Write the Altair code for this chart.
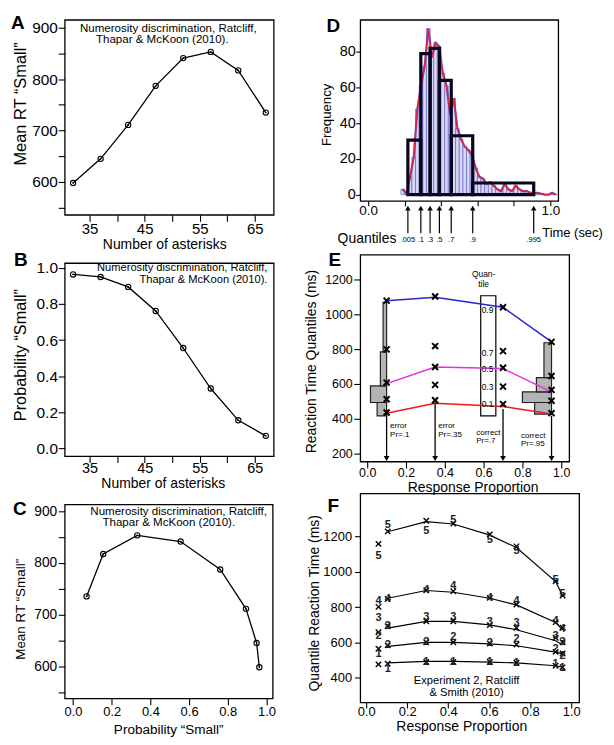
import altair as alt
import pandas as pd

FONT = "Liberation Sans"

# ================= data =================
# Panels A-C : numerosity discrimination
asterisks = [32, 37, 42, 47, 52, 57, 62, 67]
mean_rt_small = [598, 645, 711, 787, 841, 853, 817, 735]
prob_small = [0.963, 0.949, 0.894, 0.761, 0.556, 0.332, 0.156, 0.070]
note_lines = ["Numerosity discrimination, Ratcliff,", "Thapar & McKoon (2010)."]

# Panel D : RT histogram
fine_bin_lo = [0.18, 0.20, 0.22, 0.24, 0.26, 0.28, 0.30, 0.32, 0.34, 0.36, 0.38,
               0.40, 0.42, 0.44, 0.46, 0.48, 0.50, 0.52, 0.54, 0.56, 0.58, 0.60,
               0.62, 0.64, 0.66, 0.68, 0.70, 0.72, 0.74, 0.76, 0.78, 0.80, 0.82,
               0.84, 0.86, 0.88, 0.90, 0.92, 0.94, 0.96, 0.98, 1.00, 1.02]
fine_freq = [3, 0.5, 10, 21, 48, 61, 72, 93, 77, 85, 83,
             68, 61, 45, 54, 37, 31, 27, 25, 22, 15, 10,
             9, 6, 7, 5, 3, 2, 6, 3, 2, 5, 3,
             2, 2, 1, 1, 1, 0.5, 0, 0, 1, 0]
quantile_edges = [0.218, 0.289, 0.340, 0.391, 0.456, 0.574, 0.909]
quantile_heights = [30.5, 79, 82, 64, 33, 6.5]
quantile_names = [".005", ".1", ".3", ".5", ".7", ".9", ".995"]

# Panel E : quantile probability plot (schematic)
resp_prop_E = [0.1, 0.35, 0.7, 0.95]
rt_q1_E = [437, 507, 485, 433]
rt_q3_E = [513, 595, 585, 504]
rt_q5_E = [608, 697, 693, 566]
rt_q7_E = [798, 817, 788, 646]
rt_q9_E = [1077, 1101, 1039, 841]
model_q1_E = [433, 490, 471, 428]
model_q5_E = [602, 697, 688, 555]
model_q9_E = [1077, 1096, 1039, 841]
arrow_top_E = [424, 492, 457, 418]
hist_left_rt = [418, 494, 589, 784, 1067]
hist_left_x = [0.051, 0.017, 0.068, 0.082]
hist_right_rt = [428, 494, 555, 636, 836]
hist_right_x = [0.863, 0.800, 0.872, 0.911]
qbox_prop = [0.585, 0.663]
qbox_rt = [418, 1105]
qbox_names = ["0.1", "0.3", "0.5", "0.7", "0.9"]
qbox_name_rt = [485, 585, 684, 779, 1025]
qbox_head = ["Quan-", "tile"]
qbox_head_rt = [1228, 1170]
cond_text_E = ["error", "Pr=.1", "error", "Pr=.35", "correct", "Pr=.7", "correct", "Pr=.95"]
cond_x_E = [0.118, 0.118, 0.366, 0.366, 0.562, 0.562, 0.793, 0.793]
cond_rt_E = [358, 309, 358, 309, 320, 271, 305, 256]

# Panel F : Experiment 2, Ratcliff & Smith (2010)
resp_prop_F = [0.060, 0.105, 0.293, 0.425, 0.603, 0.733, 0.924, 0.958]
rt_q1_F = [474, 478, 487, 487, 487, 483, 466, 457]
rt_q3_F = [563, 582, 600, 600, 593, 587, 545, 536]
rt_q5_F = [657, 691, 719, 719, 697, 682, 625, 600]
rt_q7_F = [801, 846, 895, 890, 852, 814, 714, 682]
rt_q9_F = [1159, 1230, 1290, 1274, 1213, 1145, 946, 865]
model_prop_F = [0.105, 0.293, 0.425, 0.603, 0.733, 0.924, 0.958]
model_q1_F = [482, 491, 491, 487, 482, 466, 457]
model_q3_F = [576, 599, 599, 591, 580, 544, 534]
model_q5_F = [680, 718, 718, 699, 671, 608, 584]
model_q7_F = [850, 894, 884, 850, 812, 712, 670]
model_q9_F = [1228, 1285, 1272, 1209, 1138, 945, 864]
digit_q1_F = [530, 445, 487, 487, 490, 483, 475, 452]
digit_q3_F = [634, 582, 600, 630, 593, 620, 559, 523]
digit_q5_F = [739, 691, 745, 745, 712, 707, 634, 602]
digit_q7_F = [833, 846, 895, 922, 852, 833, 720, 676]
digit_q9_F = [1092, 1268, 1230, 1296, 1183, 1117, 956, 875]
note_F = ["Experiment 2, Ratcliff", "& Smith (2010)"]
note_F_x = [0.49, 0.49]
note_F_rt = [381, 312]

XPATH = "M-1,-1L1,1M-1,1L1,-1"


# ================= helpers =================
def lin(lo, hi):
    return alt.Scale(domain=[lo, hi], nice=False, zero=False)


def axis(values, lsize, title=None, tsize=14, tx=0, ty=0, tick=6.5, pad=1.0,
         fmt=None, expr=None):
    kw = dict(values=values, labelFontSize=lsize, tickSize=tick, labelPadding=pad,
              domain=False, grid=False, labelOverlap=False, labelFlush=False,
              tickColor="black", tickWidth=1.1, labelColor="black", labelFont=FONT)
    if title is None:
        kw["title"] = None
    else:
        kw.update(title=title, titleFontSize=tsize, titleFont=FONT,
                  titleFontWeight="normal", titleColor="black",
                  titleBaseline="middle", titleX=tx, titleY=ty)
    if fmt:
        kw["format"] = fmt
    if expr:
        kw["labelExpr"] = expr
    return alt.Axis(**kw)


def letter(ch, dx, dy):
    return alt.Chart(alt.Data(values=[{"L": ch}])).mark_text(
        align="left", baseline="alphabetic", fontSize=19, fontWeight="bold",
        font=FONT, color="black").encode(x=alt.value(dx), y=alt.value(dy), text="L:N")


def spacer(dx):
    return alt.Chart(alt.Data(values=[{"s": 1}])).mark_rule(opacity=0).encode(
        x=alt.value(dx), x2=alt.value(dx + 1), y=alt.value(60))


def numerosity_panel(xs, ys, xsc, ysc, xax, yax, w, h, nx, ny, nsize, nalign, lt):
    X = alt.X("x:Q", scale=xsc, axis=xax)
    Y = alt.Y("y:Q", scale=ysc, axis=yax)
    base = alt.Chart(pd.DataFrame({"x": xs, "y": ys}))
    line = base.mark_line(color="black", strokeWidth=1.3).encode(X, Y)
    ring = base.mark_point(shape="circle", filled=False, color="black", size=28,
                           strokeWidth=1.1, opacity=1).encode(X, Y)
    dot = base.mark_point(shape="circle", filled=True, color="black", size=3,
                          opacity=1).encode(X, Y)
    note = alt.Chart(pd.DataFrame({"x": nx, "y": ny, "t": note_lines})).mark_text(
        font=FONT, fontSize=nsize, align=nalign, baseline="middle", color="black"
    ).encode(X, Y, text="t:N")
    return alt.layer(line, ring, dot, note, letter(*lt)).properties(width=w, height=h)


rt_ticks = [550, 600, 650, 700, 750, 800, 850, 900]
rt_expr = "datum.value % 100 == 0 ? datum.label : ''"
n_ticks = [35, 40, 45, 50, 55, 60, 65]
n_expr = "datum.value % 10 == 5 ? datum.label : ''"
p_ticks = [0.0, 0.2, 0.4, 0.6, 0.8, 1.0]

# ---------------- Panel A ----------------
A = numerosity_panel(
    asterisks, mean_rt_small, lin(30.48, 68.43), lin(536.1, 915.5),
    axis(n_ticks, 15, "Number of asterisks", 14, 100, 29.5, expr=n_expr, pad=0.0),
    axis(rt_ticks, 15.5, "Mean RT \u201cSmall\u201d", 16.5, -44, 84, expr=rt_expr, pad=0.8, fmt="d"),
    210, 196, [49.3, 48.2], [898, 876], 11.6, "center", ("A", -54, 9))

# ---------------- Panel B ----------------
B = numerosity_panel(
    asterisks, prob_small, lin(30.48, 68.43), lin(-0.042, 1.026),
    axis(n_ticks, 14.5, "Number of asterisks", 14, 98.5, 28, expr=n_expr, pad=-1.0),
    axis(p_ticks, 15.5, "Probability \u201cSmall\u201d", 16.4, -44, 92, fmt=".1f", pad=0.8),
    210, 194, [67.3, 67.3], [0.996, 0.934], 11.2, "right", ("B", -51, 3))

# ---------------- Panel C ----------------
C = numerosity_panel(
    prob_small, mean_rt_small, lin(-0.043, 1.032), lin(537.9, 912.9),
    axis(p_ticks, 13, "Probability \u201cSmall\u201d", 13.6, 104, 31, fmt=".1f", pad=1.0),
    axis(rt_ticks, 13.8, "Mean RT \u201cSmall\u201d", 13.5, -44, 105, expr=rt_expr, pad=1.5, fmt="d"),
    209, 195, [0.546, 0.495], [899, 876], 11.6, "center", ("C", -52, 11))

# ---------------- Panel D ----------------
axD_x = axis(p_ticks, 13.5, tick=5, pad=-2.5, fmt=".1f",
             expr="abs(datum.value) < 1e-6 || abs(datum.value - 1) < 1e-6 ? datum.label : ''")
axD_y = axis([0, 20, 40, 60, 80], 14.5, "Frequency", 13.3, -34, 95, tick=4.5, pad=0.5)


def xD(f):
    return alt.X(f"{f}:Q", scale=lin(-0.0437, 1.0437), axis=axD_x)


def yD(f):
    return alt.Y(f"{f}:Q", scale=lin(-3.5, 98), axis=axD_y)


dfFine = pd.DataFrame({"lo": fine_bin_lo, "f": fine_freq})
dfFine["hi"] = dfFine["lo"] + 0.02
dfFine["c"] = dfFine["lo"] + 0.01
dfFine["z"] = 0.0
dfQ = pd.DataFrame({"lo": quantile_edges[:-1], "hi": quantile_edges[1:],
                    "h": quantile_heights, "z": 0.0})
dfArrD = pd.DataFrame({"q": quantile_edges, "lab": quantile_names})
dfArrD["tail"] = -21.7
dfArrD["head"] = -8.7
dfArrD["tip"] = -7.6
dfArrD["ly"] = -25.7

fineBars = alt.Chart(dfFine).mark_rect(fill="#d8d8f4", stroke="#6262c8", strokeWidth=0.7).encode(
    x=xD("lo"), x2="hi:Q", y=yD("f"), y2="z:Q")
purple = alt.Chart(dfFine).mark_line(color="#7a2d8f", strokeWidth=2.2, opacity=0.85).encode(
    x=xD("c"), y=yD("f"))
red = alt.Chart(dfFine).mark_line(color="#e8203c", strokeWidth=1.2).encode(
    x=xD("c"), y=yD("f"))
thick = alt.Chart(dfQ).mark_rect(fill="transparent", stroke="#06061f", strokeWidth=3.2).encode(
    x=xD("lo"), x2="hi:Q", y=yD("h"), y2="z:Q")
arrD = alt.Chart(dfArrD).mark_rule(color="black", strokeWidth=1.2).encode(
    x=xD("q"), y=yD("tail"), y2="head:Q")
headD = alt.Chart(dfArrD).mark_point(shape="triangle-up", filled=True, color="black",
                                     size=30, opacity=1).encode(x=xD("q"), y=yD("tip"))
qlabD = alt.Chart(dfArrD).mark_text(font=FONT, fontSize=7.5, baseline="middle",
                                    color="black").encode(x=xD("q"), y=yD("ly"), text="lab:N")
quantTxt = alt.Chart(pd.DataFrame({"x": [0.155], "y": [-24.7], "t": ["Quantiles"]})).mark_text(
    font=FONT, fontSize=14, align="right", baseline="middle", color="black").encode(
    x=xD("x"), y=yD("y"), text="t:N")
timeTxt = alt.Chart(pd.DataFrame({"x": [0.956], "y": [-21.6], "t": ["Time (sec)"]})).mark_text(
    font=FONT, fontSize=13, align="left", baseline="middle", color="black").encode(
    x=xD("x"), y=yD("y"), text="t:N")

D = alt.layer(fineBars, purple, red, thick, arrD, headD, qlabD, quantTxt, timeTxt,
              letter("D", -34, 12), spacer(-60)).properties(width=199, height=182)

# ---------------- Panel E ----------------
axE_x = axis(p_ticks, 12.5, "Response Proportion", 14, 113, 26.5, tick=6.5, pad=-1.5, fmt=".1f")
axE_y = axis([200, 400, 600, 800, 1000, 1200], 12.5, "Reaction Time Quantiles (ms)", 14,
             -49, 107, tick=6.5, pad=1.5, fmt="d")


def xE(f):
    return alt.X(f"{f}:Q", scale=lin(-0.0359, 1.041), axis=axE_x)


def yE(f):
    return alt.Y(f"{f}:Q", scale=lin(156, 1340.5), axis=axE_y)


hist_rows = []
for i in range(4):
    hist_rows.append({"x0": hist_left_x[i], "x1": resp_prop_E[0],
                      "y0": hist_left_rt[i], "y1": hist_left_rt[i + 1]})
    hist_rows.append({"x0": hist_right_x[i], "x1": resp_prop_E[3],
                      "y0": hist_right_rt[i], "y1": hist_right_rt[i + 1]})
dfHist = pd.DataFrame(hist_rows)
histE = alt.Chart(dfHist).mark_rect(fill="#b4b4b4", stroke="#222222", strokeWidth=1.2).encode(
    x=xE("x0"), x2="x1:Q", y=yE("y0"), y2="y1:Q")
boxE = alt.Chart(pd.DataFrame({"x0": [qbox_prop[0]], "x1": [qbox_prop[1]],
                               "y0": [qbox_rt[0]], "y1": [qbox_rt[1]]})).mark_rect(
    fill="white", stroke="black", strokeWidth=1.2).encode(
    x=xE("x0"), x2="x1:Q", y=yE("y0"), y2="y1:Q")

line_rows = []
for s, vals in [("q9", model_q9_E), ("q5", model_q5_E), ("q1", model_q1_E)]:
    for p, v in zip(resp_prop_E, vals):
        line_rows.append({"x": p, "y": v, "s": s})
linesE = alt.Chart(pd.DataFrame(line_rows)).mark_line(strokeWidth=1.5).encode(
    x=xE("x"), y=yE("y"),
    color=alt.Color("s:N", scale=alt.Scale(domain=["q9", "q5", "q1"],
                                           range=["#2424d8", "#e030e0", "#f01818"]),
                    legend=None))

pt_rows = []
for vals in [rt_q1_E, rt_q3_E, rt_q5_E, rt_q7_E, rt_q9_E]:
    for p, v in zip(resp_prop_E, vals):
        pt_rows.append({"x": p, "y": v})
xsE = alt.Chart(pd.DataFrame(pt_rows)).mark_point(
    shape=XPATH, filled=False, color="black", strokeWidth=2.0, size=36, opacity=1).encode(
    x=xE("x"), y=yE("y"))

dfArrE = pd.DataFrame({"x": resp_prop_E, "top": arrow_top_E})
dfArrE["base"] = 188
dfArrE["tip"] = 174
arrE = alt.Chart(dfArrE).mark_rule(color="black", strokeWidth=1.3).encode(
    x=xE("x"), y=yE("top"), y2="base:Q")
headE = alt.Chart(dfArrE).mark_point(shape="triangle-down", filled=True, color="black",
                                     size=34, opacity=1).encode(x=xE("x"), y=yE("tip"))
condE = alt.Chart(pd.DataFrame({"x": cond_x_E, "y": cond_rt_E, "t": cond_text_E})).mark_text(
    font=FONT, fontSize=8, align="left", baseline="middle", color="black").encode(
    x=xE("x"), y=yE("y"), text="t:N")
qnE = alt.Chart(pd.DataFrame({"x": [0.59] * 5, "y": qbox_name_rt, "t": qbox_names})).mark_text(
    font=FONT, fontSize=8.5, align="left", baseline="middle", color="black").encode(
    x=xE("x"), y=yE("y"), text="t:N")
qhE = alt.Chart(pd.DataFrame({"x": [0.60, 0.60], "y": qbox_head_rt, "t": qbox_head})).mark_text(
    font=FONT, fontSize=8.5, align="center", baseline="middle", color="black").encode(
    x=xE("x"), y=yE("y"), text="t:N")

E = alt.layer(histE, boxE, linesE, xsE, arrE, headE, condE, qnE, qhE,
              letter("E", -32, 11), spacer(-60)).properties(width=210, height=208)

# ---------------- Panel F ----------------
axF_x = axis(p_ticks, 13, "Response Proportion", 14, 101.5, 24.5, tick=5.7, pad=-2.5, fmt=".1f")
axF_y = axis([400, 600, 800, 1000, 1200], 13, "Quantile Reaction Time (ms)", 14,
             -46, 110, tick=5.7, pad=3.0, fmt="d")


def xF(f):
    return alt.X(f"{f}:Q", scale=lin(-0.029, 1.0387), axis=axF_x)


def yF(f):
    return alt.Y(f"{f}:Q", scale=lin(258, 1446), axis=axF_y)


fl_rows = []
for q, vals in [(1, model_q1_F), (3, model_q3_F), (5, model_q5_F), (7, model_q7_F), (9, model_q9_F)]:
    for p, v in zip(model_prop_F, vals):
        fl_rows.append({"x": p, "y": v, "q": q})
linesF = alt.Chart(pd.DataFrame(fl_rows)).mark_line(color="black", strokeWidth=1.2).encode(
    x=xF("x"), y=yF("y"), detail="q:N")

fx_rows = []
for vals in [rt_q1_F, rt_q3_F, rt_q5_F, rt_q7_F, rt_q9_F]:
    for p, v in zip(resp_prop_F, vals):
        fx_rows.append({"x": p, "y": v})
xsF = alt.Chart(pd.DataFrame(fx_rows)).mark_point(
    shape=XPATH, filled=False, color="black", strokeWidth=1.4, size=30, opacity=1).encode(
    x=xF("x"), y=yF("y"))

fd_rows = []
for d, vals in [("1", digit_q1_F), ("2", digit_q3_F), ("3", digit_q5_F), ("4", digit_q7_F), ("5", digit_q9_F)]:
    for p, v in zip(resp_prop_F, vals):
        fd_rows.append({"x": p, "y": v, "t": d})
digF = alt.Chart(pd.DataFrame(fd_rows)).mark_text(
    font=FONT, fontSize=11, fontWeight="bold", align="center", baseline="middle",
    color="#222222").encode(x=xF("x"), y=yF("y"), text="t:N")
noteF = alt.Chart(pd.DataFrame({"x": note_F_x, "y": note_F_rt, "t": note_F})).mark_text(
    font=FONT, fontSize=11.2, align="center", baseline="middle", color="black").encode(
    x=xF("x"), y=yF("y"), text="t:N")

F = alt.layer(linesF, xsF, digF, noteF, letter("F", -33, 19)).properties(width=220, height=210)

# ================= layout =================
left = alt.vconcat(A, B, C, spacing=48.5, bounds="flush")
ef = alt.vconcat(E, F, spacing=32, bounds="flush")
right = alt.vconcat(D, ef, spacing=3)

chart = alt.hconcat(left, right, spacing=23).properties(
    padding={"left": 2, "top": 3, "right": 2, "bottom": 2}
).configure(font=FONT).configure_view(stroke="black", strokeWidth=1.3)

chart.save("out.html", embed_options={"renderer": "svg", "actions": False})
